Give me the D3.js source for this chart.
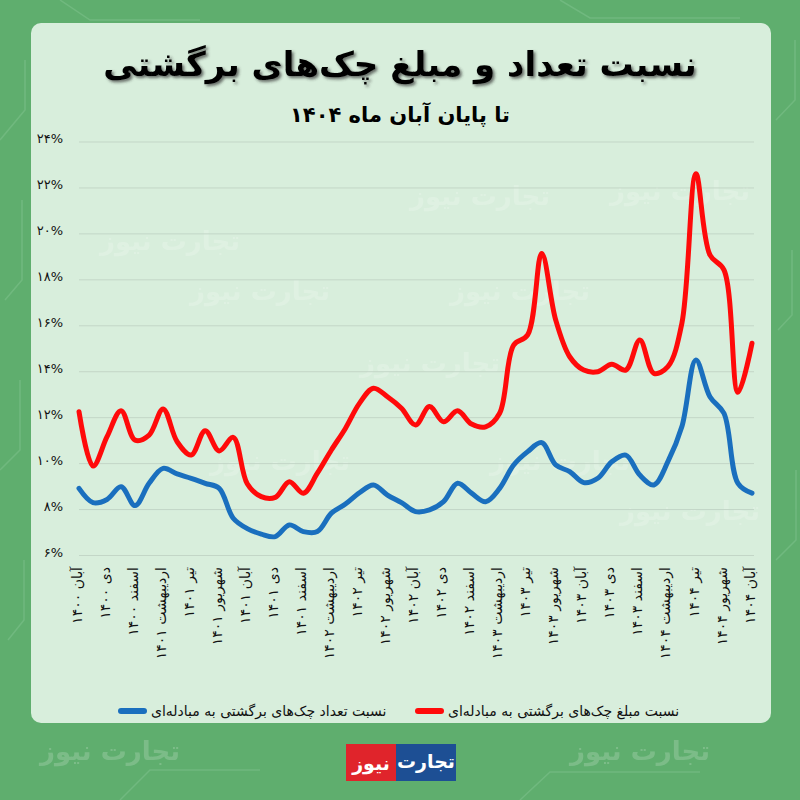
<!DOCTYPE html>
<html>
<head>
<meta charset="utf-8">
<script src="https://cdn.jsdelivr.net/npm/d3@7"></script>
<style>
  html, body { margin: 0; padding: 0; background: #5fae6e; }
  svg text { font-family: "DejaVu Sans", sans-serif; }
</style>
</head>
<body>
<div id="chart"></div>
<script>
/****************************************/
/*****  Data   *****/
/****************************************/
// months from آبان ۱۴۰۰ to آبان ۱۴۰۴ (49 monthly points)
const monthNames = ["فروردین", "اردیبهشت", "خرداد", "تیر", "مرداد", "شهریور",
                    "مهر", "آبان", "آذر", "دی", "بهمن", "اسفند"];
const startYear = 1400;
const startMonth = 7; // آبان

// percent
const amountRatio = [12.24, 9.87, 11.15, 12.28, 11.0, 11.22, 12.36, 10.93, 10.35, 11.41,
                     10.53, 11.12, 9.1, 8.54, 8.51, 9.19, 8.69, 9.56, 10.57, 11.51,
                     12.6, 13.26, 12.89, 12.39, 11.66, 12.46, 11.8, 12.28, 11.7, 11.58,
                     12.17, 15.14, 15.58, 19.13, 16.23, 14.63, 14.05, 13.98, 14.3, 14.05,
                     15.36, 13.91, 14.2, 16.09, 22.6, 19.06, 18.41, 13.08, 15.22];
const countRatio = [8.9, 8.28, 8.42, 8.97, 8.15, 9.12, 9.77, 9.53, 9.34, 9.12,
                    8.9, 7.6, 7.15, 6.91, 6.8, 7.31, 7.02, 7.02, 7.82, 8.22,
                    8.71, 9.05, 8.61, 8.28, 7.89, 7.96, 8.32, 9.12, 8.69, 8.32,
                    8.9, 9.92, 10.5, 10.89, 9.92, 9.63, 9.15, 9.34, 10.06, 10.35,
                    9.48, 9.05, 10.06, 11.59, 14.49, 12.89, 12.17, 9.12, 8.69];
const yTicks = [6, 8, 10, 12, 14, 16, 18, 20, 22, 24];

const seriesNames = ["نسبت مبلغ چک\u200cهای برگشتی به مبادله\u200cای",
                     "نسبت تعداد چک\u200cهای برگشتی به مبادله\u200cای"];
const seriesColors = ["#ff0a0a", "#1a6fbe"];

const title = "نسبت تعداد و مبلغ چک\u200cهای برگشتی";
const subtitle = "تا پایان آبان ماه ۱۴۰۴";

const faDigits = s => String(s).replace(/\d/g, d => "۰۱۲۳۴۵۶۷۸۹"[d]);
const categories = amountRatio.map((_, i) => {
  const m = (startMonth + i) % 12;
  const yr = startYear + Math.floor((startMonth + i) / 12);
  return monthNames[m] + " " + faDigits(yr);
});

/****************************************/
/*****  Frame   *****/
/****************************************/
const width = 800;
const height = 800;
const svg = d3.select('#chart')
  .append('svg')
    .attr('width', width)
    .attr('height', height);

const defs = svg.append('defs');
defs.append('filter')
    .attr('id', 'shadow')
    .attr('x', '-10%').attr('y', '-30%').attr('width', '120%').attr('height', '160%')
  .append('feDropShadow')
    .attr('dx', 2).attr('dy', 2).attr('stdDeviation', 1.5)
    .attr('flood-color', '#333').attr('flood-opacity', 0.7);

// outer green with a few circuit-like traces
svg.append('rect')
    .attr('width', width).attr('height', height)
    .attr('fill', '#5fae6e');
const traces = svg.append('g')
    .attr('stroke', '#7cc08a').attr('stroke-width', 1.5).attr('fill', 'none').attr('opacity', 0.6);
[[0, 140, 25, 110, 25, 60], [5, 300, 22, 280, 22, 200], [0, 470, 20, 450, 20, 380],
 [8, 640, 24, 620, 24, 560], [776, 120, 795, 100, 795, 40], [778, 330, 792, 315, 792, 250],
 [776, 560, 796, 540, 796, 470], [120, 800, 150, 770, 260, 770], [520, 800, 550, 772, 700, 772],
 [60, 0, 90, 20, 200, 20], [560, 0, 590, 18, 740, 18]]
  .forEach(p => traces.append('polyline').attr('points', p.join(' ')));

// light card
svg.append('rect')
    .attr('x', 31).attr('y', 23)
    .attr('width', 740).attr('height', 700)
    .attr('rx', 10)
    .attr('fill', '#d8eedc');

// faint watermarks, kept clear of the real texts
const marks = [[170, 250], [480, 205], [680, 200], [260, 300], [520, 300],
               [430, 372], [690, 520], [280, 470], [560, 470], [110, 760], [640, 760]];
svg.append('g')
  .selectAll('text')
  .data(marks)
  .join('text')
    .attr('x', d => d[0]).attr('y', d => d[1])
    .attr('text-anchor', 'middle')
    .attr('font-size', 26).attr('font-weight', 'bold')
    .attr('fill', '#ffffff').attr('opacity', 0.18)
    .text('تجارت نیوز');

/****************************************/
/*****  Titles   *****/
/****************************************/
svg.append('text')
    .attr('x', 400).attr('y', 76)
    .attr('text-anchor', 'middle')
    .attr('font-size', 34).attr('font-weight', 'bold')
    .attr('fill', '#000')
    .attr('filter', 'url(#shadow)')
    .text(title);

svg.append('text')
    .attr('x', 400).attr('y', 122)
    .attr('text-anchor', 'middle')
    .attr('font-size', 21).attr('font-weight', 'bold')
    .attr('fill', '#000')
    .text(subtitle);

/****************************************/
/*****  Scales & axes   *****/
/****************************************/
const plotLeft = 79;
const plotRight = 752;
const x = d3.scaleLinear()
  .domain([0, categories.length - 1])
  .range([plotLeft, plotRight]);
const y = d3.scaleLinear()
  .domain([6, 24])
  .range([555, 141.5]);

const yAxis = svg.append('g')
    .attr('transform', `translate(${plotLeft},0)`)
    .call(d3.axisLeft(y)
      .tickValues(yTicks)
      .tickSize(-(plotRight - plotLeft + 2))
      .tickPadding(16)
      .tickFormat(d => faDigits(d) + '%'));
yAxis.select('.domain').remove();
yAxis.selectAll('.tick line')
    .attr('stroke', '#c3d6c7').attr('stroke-width', 1);
yAxis.selectAll('.tick text')
    .attr('font-size', 13)
    .attr('fill', '#111')
    .attr('dy', '0.1em');

const tickIdx = d3.range(0, categories.length, 2);
const xAxis = svg.append('g')
    .attr('transform', `translate(0,${y(6)})`)
    .call(d3.axisBottom(x)
      .tickValues(tickIdx)
      .tickSize(0)
      .tickFormat(i => categories[i]));
xAxis.select('.domain').remove();
xAxis.selectAll('.tick text')
    .attr('font-size', 14)
    .attr('fill', '#111')
    .attr('text-anchor', 'end')
    .attr('transform', 'rotate(-90)')
    .attr('x', -12)
    .attr('y', 0)
    .attr('dy', '0.15em');

/****************************************/
/*****  Lines   *****/
/****************************************/
const line = d3.line()
  .x((d, i) => x(i))
  .y(d => y(d))
  .curve(d3.curveCatmullRom.alpha(0.5));

svg.append('g')
    .attr('fill', 'none')
    .attr('stroke-width', 5)
    .attr('stroke-linejoin', 'round')
    .attr('stroke-linecap', 'round')
  .selectAll('path')
  .data([countRatio, amountRatio])
  .join('path')
    .attr('stroke', (d, i) => i === 0 ? seriesColors[1] : seriesColors[0])
    .attr('d', line);

/****************************************/
/*****  Legend   *****/
/****************************************/
const legendItems = [
  { name: seriesNames[1], color: seriesColors[1], x: 118 },
  { name: seriesNames[0], color: seriesColors[0], x: 415 }
];
const legend = svg.append('g')
  .selectAll('g')
  .data(legendItems)
  .join('g')
    .attr('transform', d => `translate(${d.x},711)`);
legend.append('line')
    .attr('x1', 3).attr('x2', 26)
    .attr('stroke', d => d.color)
    .attr('stroke-width', 6)
    .attr('stroke-linecap', 'round');
legend.append('text')
    .attr('x', 33).attr('y', 5)
    .attr('font-size', 14)
    .attr('fill', '#111')
    .text(d => d.name);

/****************************************/
/*****  Logo   *****/
/****************************************/
const logo = svg.append('g');
logo.append('rect')
    .attr('x', 346).attr('y', 744).attr('width', 50).attr('height', 37)
    .attr('fill', '#e0242b');
logo.append('rect')
    .attr('x', 396).attr('y', 744).attr('width', 60).attr('height', 37)
    .attr('fill', '#1d4f94');
logo.append('text')
    .attr('x', 371).attr('y', 770)
    .attr('text-anchor', 'middle')
    .attr('font-size', 19).attr('font-weight', 'bold')
    .attr('fill', '#fff')
    .text('نیوز');
logo.append('text')
    .attr('x', 426).attr('y', 768)
    .attr('text-anchor', 'middle')
    .attr('font-size', 19).attr('font-weight', 'bold')
    .attr('fill', '#fff')
    .text('تجارت');
</script>
</body>
</html>
